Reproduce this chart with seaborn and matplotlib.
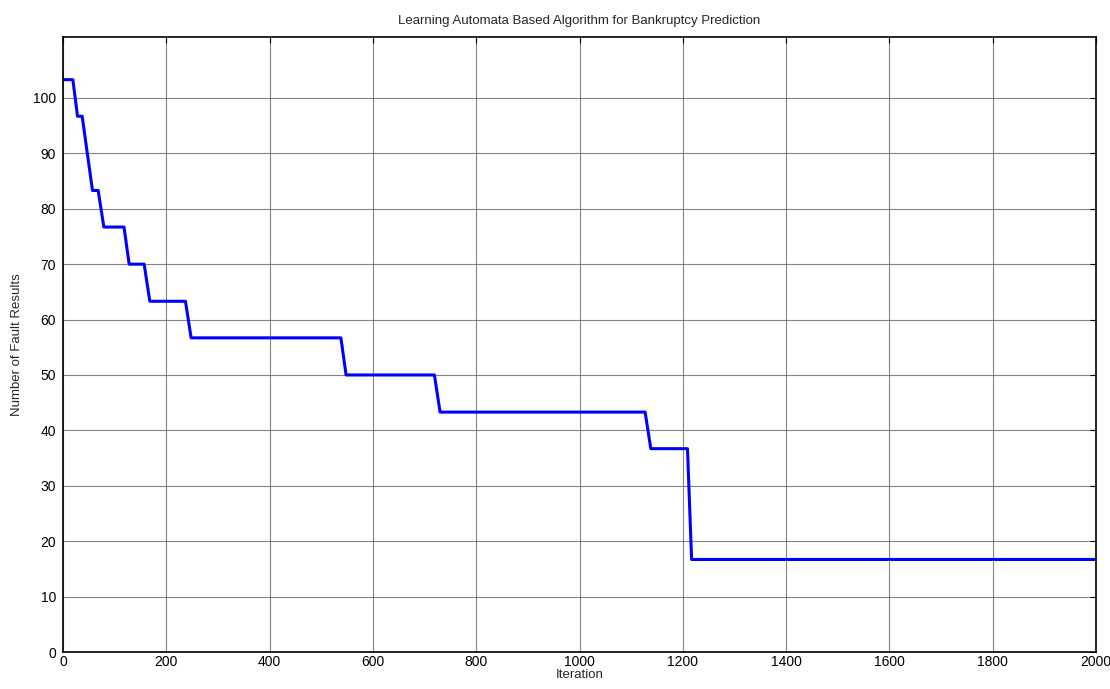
import numpy as np
import pandas as pd
import matplotlib
matplotlib.use("Agg")
import matplotlib.pyplot as plt
import seaborn as sns

# --Data (step breakpoints)--
iteration = [0, 19, 28, 37, 57, 68, 79, 118, 128, 157, 168, 237, 248,
             538, 548, 719, 730, 1127, 1138, 1209, 1217, 2000]
fault_results = [103.3, 103.3, 96.7, 96.7, 83.3, 83.3, 76.7, 76.7, 70.0, 70.0,
                 63.3, 63.3, 56.7, 56.7, 50.0, 50.0, 43.3, 43.3, 36.7, 36.7,
                 16.7, 16.7]
x_ticks = list(range(0, 2001, 200))
y_ticks = list(range(0, 101, 10))

df = pd.DataFrame({"Iteration": iteration, "Faults": fault_results})

sns.set_theme(style="white")
plt.rcParams['font.family'] = ['Liberation Sans', 'DejaVu Sans']

fig = plt.figure(figsize=(11.10, 6.89), dpi=100)
ax = fig.add_axes([0.0568, 0.0537, 0.9306, 0.8926])

sns.lineplot(data=df, x="Iteration", y="Faults", ax=ax, color="#0000ff",
             linewidth=2.2, sort=False)

ax.set_xlim(0, 2000)
ax.set_ylim(0, 111)
ax.set_xticks(x_ticks)
ax.set_yticks(y_ticks)
ax.grid(True, color="#666666", linewidth=0.8, alpha=0.8)
ax.tick_params(direction="in", length=4, width=0.8, colors="black",
               labelsize=10, top=True, right=True)
ax.tick_params(axis="x", pad=2)
ax.tick_params(axis="y", pad=5)
for s in ax.spines.values():
    s.set_color("black")
    s.set_linewidth(1.2)
    s.set_visible(True)

ax.set_title("Learning Automata Based Algorithm for Bankruptcy Prediction",
             fontsize=9.5, pad=9)
ax.set_xlabel("Iteration", fontsize=9.5, labelpad=0)
ax.set_ylabel("Number of Fault Results", fontsize=9.5, labelpad=7)

fig.savefig("out.png", dpi=100)
